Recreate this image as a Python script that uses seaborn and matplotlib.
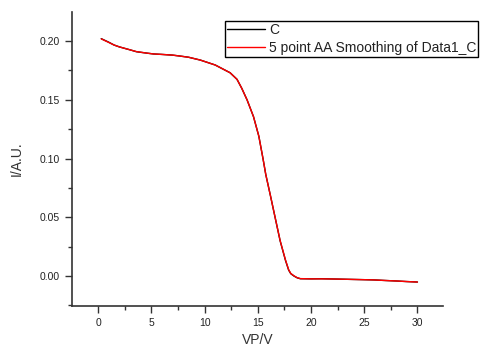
import matplotlib
matplotlib.use("Agg")
import matplotlib.pyplot as plt
import seaborn as sns
import pandas as pd
from matplotlib.ticker import MultipleLocator

# values
vp = [0.3, 1.0, 1.5, 2.0, 3.0, 3.6, 4.5, 5.2, 6.0, 7.0, 7.7, 8.5, 9.6, 11.0,
      12.4, 13.05, 13.5, 14.0, 14.6, 15.1, 15.5, 15.75, 16.2, 16.65, 17.1,
      17.6, 17.9, 18.1, 18.4, 18.7, 19.0, 20.0, 21.0, 22.0, 23.0, 24.0, 25.0,
      25.9, 27.0, 28.0, 29.0, 30.0]
current_c = [0.2020, 0.1990, 0.1966, 0.1950, 0.1925, 0.1909, 0.1898, 0.1890,
             0.1886, 0.1880, 0.1872, 0.1862, 0.1838, 0.1796, 0.1730, 0.1674,
             0.1597, 0.1498, 0.1356, 0.1190, 0.0995, 0.0865, 0.0680, 0.0490,
             0.0300, 0.0134, 0.0051, 0.0020, 0.0000, -0.0015, -0.0023,
             -0.0024, -0.0023, -0.0025, -0.0027, -0.0029, -0.0031, -0.0033,
             -0.0038, -0.0042, -0.0047, -0.0051]
current_smooth = [0.2018, 0.1988, 0.1966, 0.1950, 0.1925, 0.1910, 0.1898,
                  0.1890, 0.1886, 0.1880, 0.1872, 0.1862, 0.1838, 0.1796,
                  0.1730, 0.1674, 0.1597, 0.1498, 0.1356, 0.1190, 0.0995,
                  0.0865, 0.0680, 0.0490, 0.0302, 0.0138, 0.0054, 0.0022,
                  0.0002, -0.0014, -0.0022, -0.0024, -0.0024, -0.0025,
                  -0.0027, -0.0029, -0.0031, -0.0033, -0.0038, -0.0042,
                  -0.0047, -0.0051]

df = pd.DataFrame({"VP": vp, "C": current_c, "smooth": current_smooth})

sns.set_style("ticks")
plt.rcParams['font.family'] = ['Liberation Sans', 'DejaVu Sans']

fig = plt.figure(figsize=(4.81, 3.47), dpi=100)
ax = fig.add_axes([72 / 481, 1 - 306 / 347, (443 - 72) / 481, (306 - 12) / 347])

sns.lineplot(data=df, x="VP", y="C", ax=ax, color="black", lw=1.0, label="C")
sns.lineplot(data=df, x="VP", y="smooth", ax=ax, color="red", lw=1.0,
             label="5 point AA Smoothing of Data1_C")

ax.set_xlim(-2.45, 32.4)
ax.set_ylim(-0.0255, 0.2247)
ax.xaxis.set_major_locator(MultipleLocator(5))
ax.xaxis.set_minor_locator(MultipleLocator(2.5))
ax.yaxis.set_major_locator(MultipleLocator(0.05))
ax.yaxis.set_minor_locator(MultipleLocator(0.025))
ax.yaxis.set_major_formatter(matplotlib.ticker.FormatStrFormatter("%.2f"))

ax.tick_params(which="major", length=5, width=1, labelsize=7.5, colors="#333333",
               labelcolor="#222222", direction="out")
ax.tick_params(which="minor", length=3, width=1, colors="#333333", direction="out")
ax.set_xlabel("VP/V", fontsize=10, color="#333333")
ax.set_ylabel("I/A.U.", fontsize=10, color="#333333", labelpad=12)

sns.despine(ax=ax)
for s in ["left", "bottom"]:
    ax.spines[s].set_color("#333333")
    ax.spines[s].set_linewidth(1.2)

leg = ax.legend(loc="upper left", bbox_to_anchor=(225 / 481, 1 - 21 / 347),
                bbox_transform=fig.transFigure, borderaxespad=0, fontsize=10,
                frameon=True, fancybox=False, edgecolor="black", framealpha=1,
                handlelength=2.7, handletextpad=0.3, labelspacing=0.3,
                borderpad=0.15)
leg.get_frame().set_linewidth(1.0)
for t in leg.get_texts():
    t.set_color("#222222")

fig.savefig("out.png", dpi=100)
